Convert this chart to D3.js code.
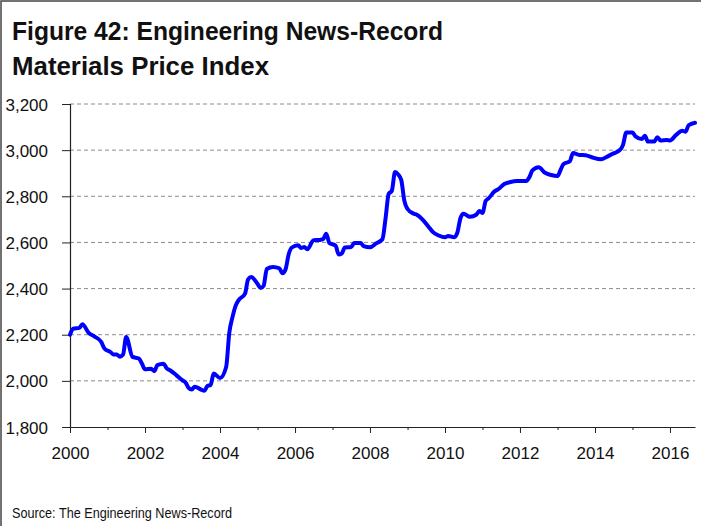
<!DOCTYPE html>
<html>
<head>
<meta charset="utf-8">
<script src="https://cdn.jsdelivr.net/npm/d3@7"></script>
<style>
  body { margin: 0; background: #fff; }
  svg text { font-family: "Liberation Sans", Arial, sans-serif; fill: #111; }
</style>
</head>
<body>
<div id="chart"></div>
<script>
// ENR materials price index (month, value)
var months = ["2000-01","2000-02","2000-04","2000-05","2000-07","2000-09","2000-11","2000-12",
  "2001-02","2001-03","2001-04","2001-05","2001-06","2001-07","2001-09","2001-11","2001-12",
  "2002-01","2002-03","2002-04","2002-05","2002-07","2002-08","2002-09","2002-11",
  "2003-01","2003-02","2003-03","2003-04","2003-05","2003-07","2003-08","2003-09","2003-10","2003-11",
  "2004-01","2004-03","2004-04","2004-05","2004-06","2004-07","2004-09","2004-10","2004-11",
  "2005-01","2005-02","2005-03","2005-04","2005-06","2005-08","2005-09","2005-10","2005-11","2005-12",
  "2006-02","2006-03","2006-04","2006-05","2006-07","2006-09","2006-10","2006-11","2006-12",
  "2007-02","2007-03","2007-04","2007-05","2007-07","2007-08","2007-10","2007-11",
  "2008-01","2008-03","2008-05","2008-06","2008-07","2008-08","2008-09","2008-10","2008-11","2008-12",
  "2009-01","2009-03","2009-04","2009-06","2009-08","2009-09","2009-11",
  "2010-01","2010-02","2010-04","2010-05","2010-06","2010-07","2010-09","2010-11","2010-12",
  "2011-01","2011-02","2011-03","2011-05","2011-06","2011-08","2011-10","2011-12",
  "2012-03","2012-04","2012-05","2012-07","2012-09","2012-11",
  "2013-01","2013-02","2013-03","2013-05","2013-06","2013-08","2013-10","2013-12",
  "2014-03","2014-05","2014-07","2014-09","2014-10","2014-11",
  "2015-01","2015-02","2015-04","2015-05","2015-06","2015-08","2015-09","2015-10","2015-12",
  "2016-01","2016-03","2016-05","2016-06","2016-07","2016-09"];

var values = [2200,2226,2230,2245,2208,2191,2168,2140,
  2124,2114,2114,2105,2114,2190,2104,2097,2075,
  2050,2052,2042,2068,2074,2054,2046,2025,
  2002,1992,1970,1963,1975,1962,1957,1978,1982,2032,
  2012,2060,2210,2275,2325,2350,2378,2440,2450,
  2420,2402,2412,2485,2494,2488,2466,2484,2550,2578,
  2588,2576,2580,2570,2610,2611,2614,2638,2598,
  2586,2548,2552,2578,2580,2598,2598,2584,
  2579,2596,2614,2705,2810,2824,2905,2895,2870,2780,
  2745,2725,2720,2697,2664,2647,2630,
  2622,2628,2622,2642,2706,2724,2711,2720,2736,
  2728,2780,2791,2822,2830,2853,2862,2866,
  2866,2882,2912,2926,2902,2892,
  2888,2916,2940,2952,2988,2979,2978,2969,
  2960,2972,2986,3001,3023,3076,
  3076,3059,3048,3062,3037,3037,3056,3042,3044,
  3042,3066,3084,3080,3108,3119];

var yTicks = [1800, 2000, 2200, 2400, 2600, 2800, 3000, 3200];
var titleLines = ["Figure 42: Engineering News-Record", "Materials Price Index"];
var sourceText = "Source: The Engineering News-Record";

var svgWidth = 701;
var svgHeight = 526;
var margin = { top: 104, right: 6, bottom: 99, left: 70 };
var width = svgWidth - margin.left - margin.right;
var height = svgHeight - margin.top - margin.bottom;

var parseMonth = d3.timeParse("%Y-%m");
var data = months.map(function(m, i) {
  return { date: parseMonth(m), value: values[i] };
});

var svg = d3.select("#chart")
  .append("svg")
  .attr("width", svgWidth)
  .attr("height", svgHeight);

// frame on the left and top edge
svg.append("path")
  .attr("d", "M1,526 V1 H701")
  .attr("fill", "none")
  .attr("stroke", "#444")
  .attr("stroke-width", 1.5);

// title, squeezed to look condensed
var titleWidths = [431, 257];
svg.append("g").selectAll("text")
  .data(titleLines)
  .enter()
  .append("text")
  .attr("x", 12)
  .attr("y", function(d, i) { return 40 + i * 35; })
  .attr("font-size", "26px")
  .attr("font-weight", "bold")
  .attr("textLength", function(d, i) { return titleWidths[i]; })
  .attr("lengthAdjust", "spacingAndGlyphs")
  .text(function(d) { return d; });

var chartGroup = svg.append("g")
  .attr("transform", `translate(${margin.left}, ${margin.top})`);

var xScale = d3.scaleTime()
  .domain([parseMonth("2000-01"), parseMonth("2016-09")])
  .range([0, width]);
var yScale = d3.scaleLinear()
  .domain([1800, 3200])
  .range([height, 0]);

// dashed gridlines
chartGroup.append("g")
  .selectAll("line")
  .data(yTicks.slice(1))
  .enter()
  .append("line")
  .attr("x1", 0)
  .attr("x2", width)
  .attr("y1", d => yScale(d))
  .attr("y2", d => yScale(d))
  .attr("stroke", "#8c8c8c")
  .attr("stroke-width", 1)
  .attr("stroke-dasharray", "4,3");

// y axis
var yAxis = d3.axisLeft(yScale)
  .tickValues(yTicks)
  .tickSize(8)
  .tickPadding(14)
  .tickFormat(d3.format(","));
var yG = chartGroup.append("g").call(yAxis);
yG.select(".domain").attr("stroke", "#222").attr("stroke-width", 1.2);
yG.selectAll(".tick line").attr("stroke", "#222");
yG.selectAll("text").attr("font-size", "17px").attr("dy", "0.36em");

// x axis: yearly ticks, labels on even years
var years = d3.timeYear.range(parseMonth("2000-01"), parseMonth("2016-02"));
var xAxis = d3.axisBottom(xScale)
  .tickValues(years)
  .tickSize(6)
  .tickSizeOuter(0)
  .tickPadding(14)
  .tickFormat(function(d) {
    return d.getFullYear() % 2 === 0 ? d3.timeFormat("%Y")(d) : "";
  });
var xG = chartGroup.append("g")
  .attr("transform", `translate(0, ${height})`)
  .call(xAxis);
xG.select(".domain").attr("stroke", "#222").attr("stroke-width", 1.2);
xG.selectAll(".tick line")
  .attr("stroke", "#222")
  .attr("y2", d => d.getFullYear() % 2 === 0 ? 6 : 3);
xG.selectAll("text").attr("font-size", "17px");

// the index line
var line = d3.line()
  .x(d => xScale(d.date))
  .y(d => yScale(d.value))
  .curve(d3.curveMonotoneX);

chartGroup.append("path")
  .datum(data)
  .attr("fill", "none")
  .attr("stroke", "#0000ff")
  .attr("stroke-width", 4)
  .attr("stroke-linejoin", "round")
  .attr("stroke-linecap", "round")
  .attr("d", line);

// source note
svg.append("text")
  .attr("x", 12)
  .attr("y", 518)
  .attr("font-size", "14px")
  .attr("textLength", 220)
  .attr("lengthAdjust", "spacingAndGlyphs")
  .text(sourceText);
</script>
</body>
</html>
